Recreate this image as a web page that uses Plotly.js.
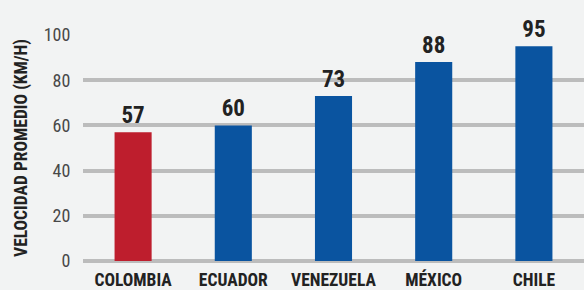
<!DOCTYPE html>
<html><head><meta charset="utf-8">
<script src="https://cdn.plot.ly/plotly-3.0.1.min.js"></script>
<style>html,body{margin:0;padding:0;background:#f2f3f3}</style>
</head><body>
<div id="chart" style="width:584px;height:290px"></div>
<script>
const countries = ["COLOMBIA", "ECUADOR", "VENEZUELA", "MÉXICO", "CHILE"];
const speeds = [57, 60, 73, 88, 95];
const barColors = ["#be1e2d", "#0a54a0", "#0a54a0", "#0a54a0", "#0a54a0"];
const yTicks = [0, 20, 40, 60, 80, 100];

const condensed = '"Liberation Sans Narrow", "Arial Narrow", "Roboto Condensed", Arial, sans-serif';

Plotly.newPlot("chart", [{
  type: "bar",
  x: countries,
  y: speeds,
  marker: {color: barColors},
  text: speeds.map(String),
  textposition: "outside",
  textfont: {family: condensed, size: 23, color: "#222", weight: "bold"},
  cliponaxis: false,
  hoverinfo: "none"
}], {
  width: 584, height: 290,
  margin: {l: 83, r: 0, t: 35, b: 29, pad: 0},
  paper_bgcolor: "#f2f3f3",
  plot_bgcolor: "#f2f3f3",
  bargap: 0.63,
  showlegend: false,
  xaxis: {
    showgrid: false, zeroline: false, showline: false,
    tickfont: {family: condensed, size: 17.5, color: "#222", weight: "bold"},
    ticks: "outside", ticklen: 3, tickcolor: "rgba(0,0,0,0)"
  },
  yaxis: {
    range: [0, 100], tickvals: yTicks, ticktext: yTicks.map(String),
    showgrid: true, gridcolor: "#bcbcbc", gridwidth: 4,
    zeroline: true, zerolinecolor: "#bcbcbc", zerolinewidth: 4,
    showline: false,
    tickfont: {family: condensed, size: 18, color: "#484848"},
    ticks: "outside", ticklen: 8, tickcolor: "rgba(0,0,0,0)",
    title: {text: "VELOCIDAD PROMEDIO (KM/H)", standoff: 11,
      font: {family: condensed, size: 17.5, color: "#222", weight: "bold"}}
  }
}, {staticPlot: true});
</script>
</body></html>
